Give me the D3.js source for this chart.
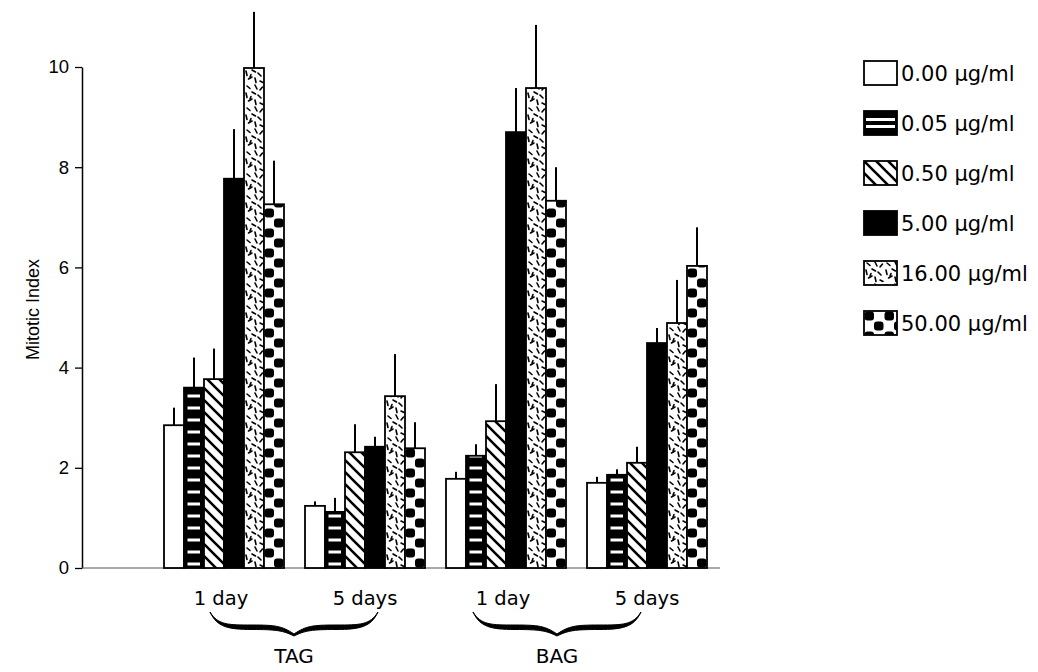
<!DOCTYPE html>
<html>
<head>
<meta charset="utf-8">
<script src="https://cdn.jsdelivr.net/npm/d3@7"></script>
<style>
  body { margin: 0; background: #fff; }
  svg { display: block; }
</style>
</head>
<body>
<svg id="chart" width="1038" height="672"></svg>
<script>
// ---- data ----
const treatments = ["TAG", "BAG"];
const durations = ["1 day", "5 days"];
const concentrations = ["0.00 µg/ml", "0.05 µg/ml", "0.50 µg/ml", "5.00 µg/ml", "16.00 µg/ml", "50.00 µg/ml"];
const yTicks = [0, 2, 4, 6, 8, 10];

// mean mitotic index for each concentration, and its error (upper bar)
const tag1DayMean = [2.85, 3.60, 3.77, 7.77, 9.98, 7.26];
const tag1DayErr  = [0.35, 0.60, 0.61, 0.99, 1.12, 0.87];
const tag5DayMean = [1.24, 1.12, 2.31, 2.42, 3.43, 2.39];
const tag5DayErr  = [0.09, 0.28, 0.56, 0.20, 0.84, 0.52];
const bag1DayMean = [1.78, 2.24, 2.93, 8.70, 9.58, 7.33];
const bag1DayErr  = [0.14, 0.23, 0.74, 0.88, 1.26, 0.67];
const bag5DayMean = [1.70, 1.86, 2.10, 4.49, 4.89, 6.03];
const bag5DayErr  = [0.12, 0.11, 0.32, 0.30, 0.86, 0.77];

const groups = [
  { treatment: "TAG", duration: "1 day",  mean: tag1DayMean, err: tag1DayErr },
  { treatment: "TAG", duration: "5 days", mean: tag5DayMean, err: tag5DayErr },
  { treatment: "BAG", duration: "1 day",  mean: bag1DayMean, err: bag1DayErr },
  { treatment: "BAG", duration: "5 days", mean: bag5DayMean, err: bag5DayErr }
];
groups.forEach(g => g.key = g.treatment + " " + g.duration);

// fill style used for each concentration
const fillStyles = ["open", "hstripe", "diag", "solid", "speckle", "checker"];

// ---- layout ----
const svg = d3.select("#chart");
const axisX = 82, baseY = 568, topY = 67;
const x0 = d3.scaleBand().domain(groups.map(g => g.key)).range([164, 707]).paddingInner(0.149).paddingOuter(0);
const x1 = d3.scaleBand().domain(concentrations).range([0, x0.bandwidth()]).padding(0);
const y = d3.scaleLinear().domain([0, 10]).range([baseY, topY]);

const sansFont = "Liberation Sans, Arial, Helvetica, sans-serif";
const wideFont = "DejaVu Sans, Verdana, sans-serif";

// ---- fill patterns ----
const defs = svg.append("defs");

const stripe = defs.append("pattern").attr("id", "pat-hstripe").attr("patternUnits", "userSpaceOnUse")
  .attr("width", 20).attr("height", 12);
stripe.append("rect").attr("width", 20).attr("height", 12).attr("fill", "#000");
stripe.append("rect").attr("x", 3.5).attr("y", 6.5).attr("width", 12.5).attr("height", 3).attr("fill", "#fff");

const diag = defs.append("pattern").attr("id", "pat-diag").attr("patternUnits", "userSpaceOnUse")
  .attr("width", 12).attr("height", 12);
diag.append("rect").attr("width", 12).attr("height", 12).attr("fill", "#fff");
diag.append("path").attr("d", "M-1,-1 L13,13 M-1,11 L1,13 M11,-1 L13,1")
  .attr("stroke", "#000").attr("stroke-width", 2.6).attr("fill", "none");

const speck = defs.append("pattern").attr("id", "pat-speckle").attr("patternUnits", "userSpaceOnUse")
  .attr("width", 20).attr("height", 22);
speck.append("rect").attr("width", 20).attr("height", 22).attr("fill", "#fff");
const dashes = [
  [3, 2, 6, 4.5], [11, 1, 13, 5], [16, 6, 18.5, 3], [2, 9, 3, 13.5], [8, 8, 11.5, 10],
  [14, 11, 17, 14], [4.5, 17, 8, 15], [11, 16, 12, 20.5], [16, 19, 19, 20.5], [7, 12.5, 6, 15]
];
speck.selectAll("line").data(dashes).join("line")
  .attr("x1", d => d[0]).attr("y1", d => d[1]).attr("x2", d => d[2]).attr("y2", d => d[3])
  .attr("stroke", "#000").attr("stroke-width", 1.6).attr("stroke-linecap", "round");

const chk = defs.append("pattern").attr("id", "pat-checker").attr("patternUnits", "userSpaceOnUse")
  .attr("width", 20).attr("height", 20);
chk.append("rect").attr("width", 20).attr("height", 20).attr("fill", "#fff");
chk.append("rect").attr("x", 0.5).attr("y", 0.5).attr("width", 9.5).attr("height", 9).attr("rx", 3).attr("fill", "#000");
chk.append("rect").attr("x", 10).attr("y", 10.5).attr("width", 9.5).attr("height", 9).attr("rx", 3).attr("fill", "#000");

function fillFor(style) {
  switch (style) {
    case "open": return "#fff";
    case "solid": return "#000";
    default: return "url(#pat-" + style + ")";
  }
}

// ---- axes ----
const yAxis = svg.append("g").attr("transform", `translate(${axisX},0)`)
  .call(d3.axisLeft(y).tickValues(yTicks).tickSize(7).tickSizeOuter(0).tickPadding(6));
yAxis.attr("font-family", sansFont).attr("font-size", 18.5);
yAxis.select(".domain").attr("stroke", "#000").attr("stroke-width", 1.5);
yAxis.selectAll(".tick line").attr("stroke", "#000").attr("stroke-width", 1.3);
yAxis.selectAll(".tick text").attr("fill", "#000");

svg.append("line").attr("x1", axisX).attr("x2", 720).attr("y1", y(0)).attr("y2", y(0))
  .attr("stroke", "#555").attr("stroke-width", 1);

svg.append("text")
  .attr("transform", `translate(39,${(y(0) + y(10)) / 2 - 8}) rotate(-90)`)
  .attr("text-anchor", "middle")
  .attr("font-family", sansFont).attr("font-size", 18)
  .text("Mitotic Index");

// ---- bars ----
const barGroups = svg.append("g").selectAll("g.group").data(groups).join("g")
  .attr("class", "group").attr("transform", d => `translate(${x0(d.key)},0)`);

const bars = barGroups.selectAll("g.bar")
  .data(g => concentrations.map((c, i) => ({ c, i, v: g.mean[i], e: g.err[i] })))
  .join("g").attr("class", "bar")
  .attr("transform", d => `translate(${x1(d.c)},${y(0)})`);

bars.append("rect")
  .attr("x", 0).attr("y", d => y(d.v) - y(0))
  .attr("width", x1.bandwidth()).attr("height", d => y(0) - y(d.v))
  .attr("fill", d => fillFor(fillStyles[d.i]))
  .attr("stroke", "#000").attr("stroke-width", 1.8);

bars.append("line")
  .attr("x1", x1.bandwidth() / 2).attr("x2", x1.bandwidth() / 2)
  .attr("y1", d => y(d.v) - y(0)).attr("y2", d => y(d.v + d.e) - y(0))
  .attr("stroke", "#000").attr("stroke-width", 2);

// ---- duration labels ----
svg.append("g").selectAll("text").data(groups).join("text")
  .attr("x", d => x0(d.key) + x0.bandwidth() / 2 - (d.duration === "1 day" ? 3 : 0))
  .attr("y", 605)
  .attr("text-anchor", "middle")
  .attr("font-family", wideFont).attr("font-size", 19.5)
  .text(d => d.duration);

// ---- braces and treatment labels ----
const braceShift = { TAG: 0, BAG: -19 };
function bracePath(xa, xb, yt) {
  const xm = (xa + xb) / 2, q1 = (xa + xm) / 2, q3 = (xm + xb) / 2;
  const t = 4.5;
  const top = [
    [xa, yt - 2],
    [xa + 8, yt + 11, q1 - 24, yt + 11, q1, yt + 11],
    [q1 + 24, yt + 11, xm - 12, yt + 12, xm, yt + 20],
    [xm + 12, yt + 12, q3 - 24, yt + 11, q3, yt + 11],
    [q3 + 24, yt + 11, xb - 8, yt + 11, xb, yt - 2]
  ];
  const bot = [
    [xb, yt - 2],
    [xb - 7, yt + 13, q3 + 24, yt + 11 + t, q3, yt + 11 + t],
    [q3 - 24, yt + 11 + t, xm + 11, yt + 12 + t, xm, yt + 22],
    [xm - 11, yt + 12 + t, q1 + 24, yt + 11 + t, q1, yt + 11 + t],
    [q1 - 24, yt + 11 + t, xa + 7, yt + 13, xa, yt - 2]
  ];
  const seg = s => s.slice(1).map(c => `C${c[0]},${c[1]} ${c[2]},${c[3]} ${c[4]},${c[5]}`).join(" ");
  return `M${top[0][0]},${top[0][1]} ${seg(top)} L${bot[0][0]},${bot[0][1]} ${seg(bot)} Z`;
}

treatments.forEach(t => {
  const gs = groups.filter(g => g.treatment === t);
  const cA = x0(gs[0].key) + x0.bandwidth() / 2;
  const cB = x0(gs[1].key) + x0.bandwidth() / 2;
  const xa = cA - 14 + braceShift[t], xb = cB + 13 + braceShift[t];
  svg.append("path").attr("d", bracePath(xa, xb, 614)).attr("fill", "#000")
    .attr("stroke", "#000").attr("stroke-width", 1);
  svg.append("text").attr("x", (xa + xb) / 2).attr("y", 663)
    .attr("text-anchor", "middle")
    .attr("font-family", wideFont).attr("font-size", 20)
    .text(t);
});

// ---- legend ----
const legend = svg.append("g").attr("transform", "translate(864,61)");
const rows = legend.selectAll("g").data(concentrations).join("g")
  .attr("transform", (d, i) => `translate(0,${i * 50})`);
rows.each(function (d, i) {
  const g = d3.select(this);
  const style = fillStyles[i];
  if (style === "hstripe") {
    g.append("rect").attr("width", 33).attr("height", 24).attr("fill", "#000");
    [7, 14].forEach(yy => g.append("rect").attr("x", 2).attr("y", yy).attr("width", 29).attr("height", 3).attr("fill", "#fff"));
    g.append("rect").attr("width", 33).attr("height", 24).attr("fill", "none").attr("stroke", "#000").attr("stroke-width", 1.8);
  } else {
    g.append("rect").attr("width", 33).attr("height", 24)
      .attr("fill", fillFor(style)).attr("stroke", "#000").attr("stroke-width", 1.8);
  }
  g.append("text").attr("x", 37).attr("y", 20)
    .attr("font-family", wideFont).attr("font-size", 21)
    .text(d);
});
</script>
</body>
</html>
